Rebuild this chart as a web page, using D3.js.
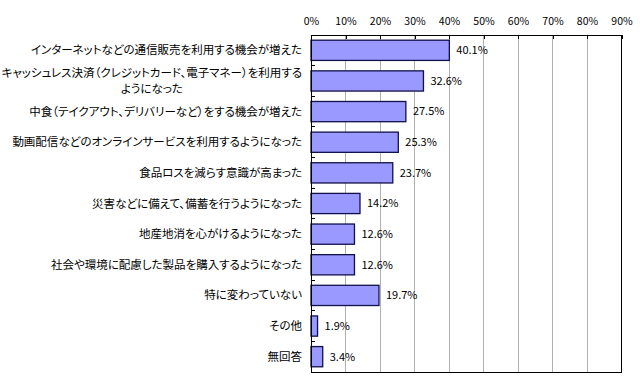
<!DOCTYPE html>
<html><head><meta charset="utf-8">
<script src="https://cdn.jsdelivr.net/npm/d3@7"></script>
<style>
body{margin:0;background:#fff;}
text{font-family:"Noto Sans CJK JP","Noto Sans",sans-serif;font-feature-settings:"palt";}
</style></head>
<body><svg id="c" width="640" height="381"></svg>
<script>
const categories = [
  ["インターネットなどの通信販売を利用する機会が増えた"],
  ["キャッシュレス決済（クレジットカード、電子マネー）を利用する","ようになった"],
  ["中食（テイクアウト、デリバリーなど）をする機会が増えた"],
  ["動画配信などのオンラインサービスを利用するようになった"],
  ["食品ロスを減らす意識が高まった"],
  ["災害などに備えて、備蓄を行うようになった"],
  ["地産地消を心がけるようになった"],
  ["社会や環境に配慮した製品を購入するようになった"],
  ["特に変わっていない"],
  ["その他"],
  ["無回答"]
];
const values = [40.1, 32.6, 27.5, 25.3, 23.7, 14.2, 12.6, 12.6, 19.7, 1.9, 3.4];
const ticks = [0,10,20,30,40,50,60,70,80,90];

const svg = d3.select("#c");
const L=311, R=621.5, T=35, B=372;
const x = d3.scaleLinear().domain([0,90]).range([L,R]);
const y = d3.scaleBand().domain(d3.range(values.length)).range([T,B]).paddingInner(0.34).paddingOuter(0.17);

// gridlines
svg.append("g").selectAll("line").data(ticks.slice(1,-1)).join("line")
  .attr("x1",d=>x(d)).attr("x2",d=>x(d)).attr("y1",T).attr("y2",B)
  .attr("stroke","#b0b0b0").attr("stroke-width",1).attr("shape-rendering","crispEdges");

// top axis
const ax = d3.axisTop(x).tickValues(ticks).tickFormat(d=>d+"%").tickSize(-4).tickPadding(8);
const g = svg.append("g").attr("transform",`translate(0,${T})`).call(ax);
g.select(".domain").remove();
g.selectAll(".tick line").attr("stroke","#000").attr("shape-rendering","crispEdges");
g.selectAll("text").attr("font-size","10.5px").attr("fill","#000").attr("y",-10);

// bars
svg.append("g").selectAll("rect").data(values).join("rect")
  .attr("x",x(0)).attr("y",(d,i)=>y(i)).attr("width",d=>x(d)-x(0)).attr("height",y.bandwidth())
  .attr("fill","#9999ff").attr("stroke","#10104a").attr("stroke-width",1.3);

// left ticks at band boundaries
svg.append("g").selectAll("line").data(d3.range(1,values.length)).join("line")
  .attr("x1",L).attr("x2",L+4).attr("y1",i=>T+i*(B-T)/values.length).attr("y2",i=>T+i*(B-T)/values.length)
  .attr("stroke","#000").attr("shape-rendering","crispEdges");

// border
svg.append("rect").attr("x",L).attr("y",T).attr("width",R-L).attr("height",B-T)
  .attr("fill","none").attr("stroke","#000").attr("stroke-width",1).attr("shape-rendering","crispEdges");

// value labels
svg.append("g").selectAll("text").data(values).join("text")
  .attr("x",d=>x(d)+7).attr("y",(d,i)=>y(i)+y.bandwidth()/2).attr("dy","0.35em")
  .attr("font-size","11px").attr("fill","#000").text(d=>d.toFixed(1)+"%");

// category labels
const cx = 302;
categories.forEach((lines,i)=>{
  const cy = y(i)+y.bandwidth()/2;
  if(lines.length===1){
    svg.append("text").attr("x",cx).attr("y",cy).attr("dy","0.35em").attr("text-anchor","end")
      .attr("font-size","11.5px").attr("fill","#000").text(lines[0]);
  } else {
    const t1 = svg.append("text").attr("x",cx).attr("y",cy-8).attr("dy","0.35em").attr("text-anchor","end")
      .attr("font-size","11.5px").attr("fill","#000").text(lines[0]);
    const w = t1.node().getComputedTextLength();
    svg.append("text").attr("x",cx-w/2).attr("y",cy+8.5).attr("dy","0.35em").attr("text-anchor","middle")
      .attr("font-size","11.5px").attr("fill","#000").text(lines[1]);
  }
});
</script></body></html>
